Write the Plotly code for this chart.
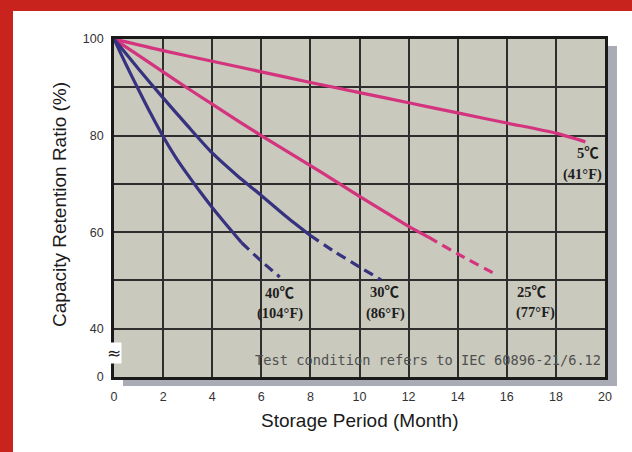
import plotly.graph_objects as go

# ---------------- data ----------------
# 5 degC (41 F) - solid only
x_5c = [0, 2, 4, 6, 8, 10, 12, 14, 16, 18, 19.2]
y_5c = [100, 97.6, 95.4, 93.2, 91.0, 88.9, 86.8, 84.7, 82.6, 80.5, 78.7]

# 25 degC (77 F)
x_25c_solid = [0, 1, 2, 3, 4, 5, 6, 7, 8, 9, 10, 11, 12, 12.8]
y_25c_solid = [100, 96.6, 93.2, 89.8, 86.5, 83.2, 80.0, 76.9, 73.8, 70.6, 67.4, 64.3, 61.2, 59.0]
x_25c_dash = [12.8, 14, 15.65]
y_25c_dash = [59.0, 55.5, 51.0]

# 30 degC (86 F)
x_30c_solid = [0, 1, 2, 3, 4, 5, 6, 7, 8]
y_30c_solid = [100, 93.8, 87.8, 82.0, 76.4, 71.8, 67.6, 63.3, 59.3]
x_30c_dash = [8, 9, 10, 10.88]
y_30c_dash = [59.3, 55.9, 52.8, 50.1]

# 40 degC (104 F)
x_40c_solid = [0, 0.5, 1, 1.5, 2, 2.5, 3, 3.5, 4, 4.5, 5.2]
y_40c_solid = [100, 94.6, 89.5, 84.5, 79.8, 75.6, 71.9, 68.4, 65.1, 62.0, 57.8]
x_40c_dash = [5.2, 6, 6.75]
y_40c_dash = [57.8, 54.0, 50.7]

x_ticks = [0, 2, 4, 6, 8, 10, 12, 14, 16, 18, 20]
x_ticklabels = ["0", "2", "4", "6", "8", "10", "12", "14", "16", "18", "20"]
y_ticks = [30, 40, 50, 60, 70, 80, 90, 100]
y_ticklabels = ["0", "40", "", "60", "", "80", "", "100"]

label_top = ["40℃", "30℃", "25℃", "5℃"]
label_bottom = ["(104°F)", "(86°F)", "(77°F)", "(41°F)"]
label_top_x = [6.76, 11.04, 17.03, 19.3]
label_bottom_x = [6.76, 11.04, 17.15, 19.1]
label_top_y = [47.4, 47.6, 47.6, 76.4]
label_bottom_y = [43.1, 43.1, 43.3, 72.0]

note_text = "Test condition refers to IEC 60896-21/6.12"

PINK = "#d4337e"
NAVY = "#36327f"

fig = go.Figure()

def add_line(x, y, color, dashed=False):
    fig.add_trace(go.Scatter(
        x=x, y=y, mode="lines",
        line=dict(color=color, width=3.2, dash="10px,6px" if dashed else "solid",
                  shape="spline", smoothing=0.7),
        showlegend=False, hoverinfo="skip"))

add_line(x_5c, y_5c, PINK)
add_line(x_25c_solid, y_25c_solid, PINK)
add_line(x_25c_dash, y_25c_dash, PINK, True)
add_line(x_30c_solid, y_30c_solid, NAVY)
add_line(x_30c_dash, y_30c_dash, NAVY, True)
add_line(x_40c_solid, y_40c_solid, NAVY)
add_line(x_40c_dash, y_40c_dash, NAVY, True)

LABEL_FONT = dict(family="Liberation Serif, Noto Sans CJK SC", size=14.5, color="#1e1e1e", weight="bold")

annotations = []
for t, x, y in zip(label_top, label_top_x, label_top_y):
    annotations.append(dict(x=x, y=y, xref="x", yref="y", text=t, showarrow=False, font=LABEL_FONT))
for t, x, y in zip(label_bottom, label_bottom_x, label_bottom_y):
    annotations.append(dict(x=x, y=y, xref="x", yref="y", text=t, showarrow=False, font=LABEL_FONT))

annotations.append(dict(x=19.92, y=33.5, xref="x", yref="y", text=note_text, showarrow=False,
                        xanchor="right", yanchor="middle",
                        font=dict(family="DejaVu Sans Mono", size=13.7, color="#505050")))

# axis break symbol
annotations.append(dict(x=0, y=35, xref="paper", yref="y", text="≈", showarrow=False,
                        xanchor="center", yanchor="middle", bgcolor="white", borderpad=0,
                        font=dict(family="DejaVu Sans", size=17, color="#222")))

# axis titles
annotations.append(dict(x=-0.11, y=0.512, xref="paper", yref="paper",
                        text="Capacity Retention Ratio (%)", textangle=-90, showarrow=False,
                        xanchor="center", yanchor="middle",
                        font=dict(family="Liberation Sans", size=19, color="#1a1a1a")))
annotations.append(dict(x=0.501, y=-0.130, xref="paper", yref="paper",
                        text="Storage Period (Month)", showarrow=False,
                        xanchor="center", yanchor="middle",
                        font=dict(family="Liberation Sans", size=19, color="#1a1a1a")))

shapes = [
    # red frame (left & top)
    dict(type="rect", xref="paper", yref="paper", x0=-0.25, x1=-0.2057, y0=-0.3, y1=1.2,
         fillcolor="#c8241d", line=dict(width=0), layer="below"),
    dict(type="rect", xref="paper", yref="paper", x0=-0.25, x1=1.1, y0=1.0828, y1=1.2,
         fillcolor="#c8241d", line=dict(width=0), layer="below"),
    # drop shadow of plot area
    dict(type="rect", xref="paper", yref="paper", x0=1.004, x1=1.0244, y0=-0.0266, y1=0.979,
         fillcolor="#a9abb5", line=dict(width=0), layer="below"),
    dict(type="rect", xref="paper", yref="paper", x0=0.0183, x1=1.0244, y0=-0.0266, y1=-0.004,
         fillcolor="#a9abb5", line=dict(width=0), layer="below"),
]

fig.update_layout(
    width=632, height=452,
    margin=dict(l=114, r=27, t=39, b=75),
    paper_bgcolor="white",
    plot_bgcolor="#c9c9bd",
    annotations=annotations,
    shapes=shapes,
    showlegend=False,
    xaxis=dict(range=[0, 20], tickvals=x_ticks, ticktext=x_ticklabels,
               showgrid=True, gridcolor="#2e2e2e", gridwidth=1.6,
               zeroline=False, showline=True, linecolor="#1a1a1a", linewidth=2.6, mirror=True,
               ticks="", ticklabelstandoff=6,
               tickfont=dict(family="Liberation Sans", size=12.5, color="#333")),
    yaxis=dict(range=[30, 100], tickvals=y_ticks, ticktext=y_ticklabels,
               showgrid=True, gridcolor="#2e2e2e", gridwidth=1.6,
               zeroline=False, showline=True, linecolor="#1a1a1a", linewidth=2.6, mirror=True,
               ticks="", ticklabelstandoff=5,
               tickfont=dict(family="Liberation Sans", size=12.5, color="#333")),
)

fig.write_html("out.html", config={"displayModeBar": False},
               post_script="document.body.style.margin='0';")
